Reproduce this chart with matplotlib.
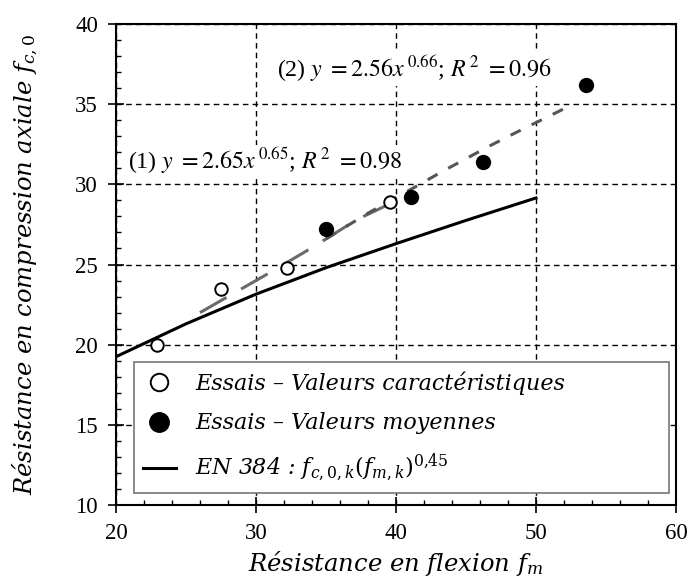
import matplotlib
matplotlib.use("Agg")
import matplotlib.pyplot as plt
from matplotlib.ticker import MultipleLocator

# ---- data ----
fm_char = [22.9, 27.5, 32.2, 39.6]          # characteristic values (open circles)
fc_char = [20.0, 23.5, 24.8, 28.9]
fm_mean = [35.0, 41.1, 46.2, 53.6]          # mean values (filled circles)
fc_mean = [27.2, 29.2, 31.4, 36.2]

fit1_x = [26.0, 30.8, 34.1, 37.2, 39.6]     # fit (1) on characteristic values
fit1_y = [22.0, 24.4, 26.1, 27.8, 28.8]
fit2_x = [35.0, 38.0, 41.7, 43.3, 46.7, 48.5, 52.2]   # fit (2) on mean values
fit2_y = [26.6, 28.2, 30.0, 30.8, 32.4, 33.2, 34.8]

en384_x = [20, 25, 30, 35, 40, 45, 50]      # EN 384 curve
en384_y = [19.25, 21.3, 23.15, 24.8, 26.3, 27.75, 29.15]

x_ticks = [20, 30, 40, 50, 60]
y_ticks = [10, 15, 20, 25, 30, 35, 40]

eq1 = r"(1) $y\ =2.65x^{\,0.65}$; $R^{\,2}\ =0.98$"
eq2 = r"(2) $y\ =2.56x^{\,0.66}$; $R^{\,2}\ =0.96$"
lab_char = "Essais – Valeurs caractéristiques"
lab_mean = "Essais – Valeurs moyennes"
lab_en = r"EN 384 : $f_{c,0,k}\left(f_{m,k}\right)^{0{,}45}$"
xlabel = r"Résistance en flexion $f_m$"
ylabel = r"Résistance en compression axiale $f_{c,0}$"

plt.rcParams['mathtext.fontset'] = 'dejavuserif'

fig = plt.figure(figsize=(6.88, 5.79), dpi=100)
ax = fig.add_axes([116/688, 74/579, 560/688, 481/579])

ax.set_xlim(20, 60)
ax.set_ylim(10, 40)
ax.set_xticks(x_ticks)
ax.set_yticks(y_ticks)
ax.xaxis.set_minor_locator(MultipleLocator(2))
ax.yaxis.set_minor_locator(MultipleLocator(1))

ax.grid(True, which='major', color='black', ls=(0, (4, 3)), lw=1.0)
ax.set_axisbelow(True)

for s in ax.spines.values():
    s.set_linewidth(1.5)

ax.tick_params(which='major', direction='inout', length=11, width=1.2,
               labelsize=16.5, pad=7.5, labelfontfamily='Liberation Serif')
ax.tick_params(which='minor', direction='in', length=3.5, width=1.0)

ax.plot(en384_x, en384_y, color='black', lw=2.2, label=lab_en, zorder=3)
ax.plot(fit1_x, fit1_y, color='#6a6a6a', lw=2.2, ls=(0, (10, 5.5)), zorder=3)
ax.plot(fit2_x, fit2_y, color='#555555', lw=2.2, ls=(0, (3.7, 4)), zorder=3)
ax.plot(fm_char, fc_char, 'o', ms=9, mfc='white', mec='black', mew=1.4,
        ls='none', label=lab_char, zorder=4)
ax.plot(fm_mean, fc_mean, 'o', ms=10, mfc='black', mec='black',
        ls='none', label=lab_mean, zorder=4)

ax.text(20.86, 31.44, eq1, fontsize=17.3, family='Liberation Serif',
        math_fontfamily='stix', va='center', ha='left', zorder=2,
        bbox=dict(facecolor='white', edgecolor='none', pad=1))
ax.text(31.5, 37.2, eq2, fontsize=17.3, family='Liberation Serif',
        math_fontfamily='stix', va='center', ha='left', zorder=2,
        bbox=dict(facecolor='white', edgecolor='none', pad=1))

ax.set_xlabel(xlabel, family='DejaVu Serif', style='italic', fontsize=17.5)
ax.set_ylabel(ylabel, family='DejaVu Serif', style='italic', fontsize=17.5)
ax.xaxis.set_label_coords(0.5, -0.092)
ax.yaxis.set_label_coords(-0.136, 0.5)

h, l = ax.get_legend_handles_labels()
order = [1, 2, 0]
leg = ax.legend([h[i] for i in order], [l[i] for i in order],
                loc='upper left', bbox_to_anchor=(0.032, 0.023, 0.955, 0.274),
                mode='expand', borderaxespad=0, fancybox=False, framealpha=1,
                edgecolor='#777777', markerscale=1.4, handlelength=1.5,
                handletextpad=0.85, labelspacing=0.8, borderpad=0.4,
                prop=dict(family='DejaVu Serif', style='italic', size=16))
leg.get_frame().set_linewidth(1.2)
leg.set_zorder(5)

fig.savefig("out.png", dpi=100)
